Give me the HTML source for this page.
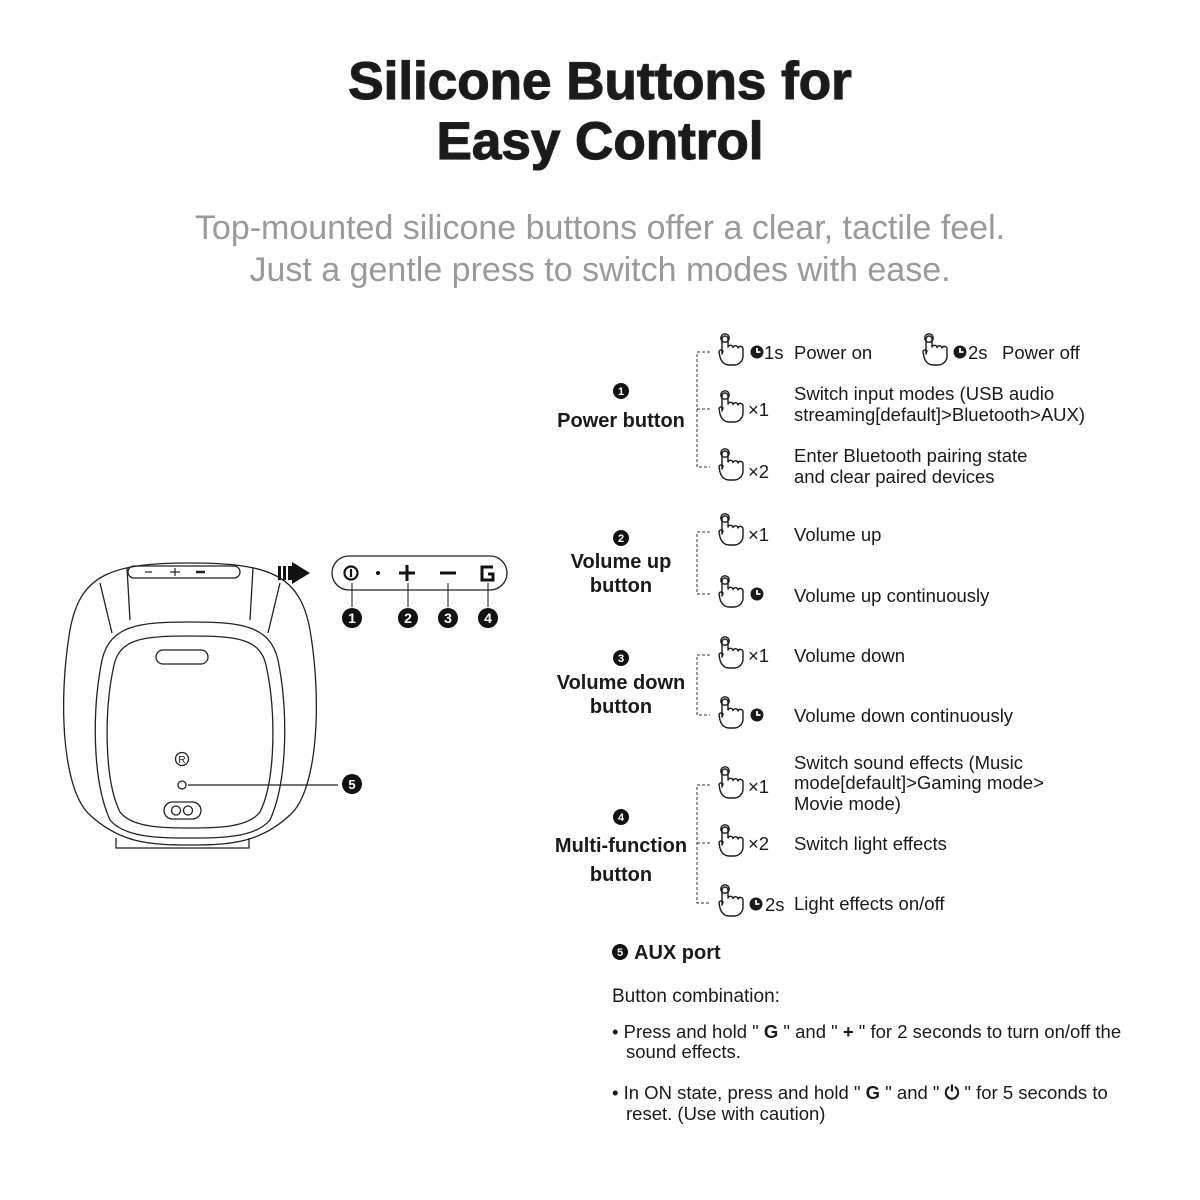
<!DOCTYPE html>
<html><head><meta charset="utf-8"><style>
html,body{margin:0;padding:0;background:#fff;}
svg{display:block;}
text{font-family:"Liberation Sans",sans-serif;fill:#1a1a1a;}
.t{font-size:18.5px;}
.b{font-size:20px;font-weight:bold;}
</style></head><body>
<svg width="1200" height="1200" viewBox="0 0 1200 1200" xmlns="http://www.w3.org/2000/svg">
<defs>
<g id="hand" fill="none" stroke="#1a1a1a" stroke-width="1.4" stroke-linejoin="round" stroke-linecap="round">
<circle cx="13" cy="-14" r="4.2"/>
<path d="M10,2 V-13 a3,3 0 0 1 6,0 V-5 a2.6,2.6 0 0 1 5,0.5 a2.6,2.6 0 0 1 5,0.5 a2.6,2.6 0 0 1 5,1 V4 c0,5 -4,9 -9,9 h-5 c-5,0 -8,-4 -9,-8 l-1,-5 c0,-2 3,-3 4,-1 z"/>
</g>
<g id="clk"><circle r="6.5" fill="#1a1a1a"/><path d="M0,-4 V0 H3.5" stroke="#fff" stroke-width="1.8" fill="none"/></g>
</defs>

<text x="600" y="99" text-anchor="middle" style="font-size:53px;font-weight:bold;stroke:#222;stroke-width:1.2" fill="#222">Silicone Buttons for</text>
<text x="600" y="159" text-anchor="middle" style="font-size:53px;font-weight:bold;stroke:#222;stroke-width:1.2" fill="#222">Easy Control</text>
<text x="600" y="239" text-anchor="middle" style="font-size:34px;fill:#9a9a9a">Top-mounted silicone buttons offer a clear, tactile feel.</text>
<text x="600" y="281" text-anchor="middle" style="font-size:34px;fill:#9a9a9a">Just a gentle press to switch modes with ease.</text>

<!-- device -->
<g fill="none" stroke="#222" stroke-width="1.3">
<path d="M190,563 C110,563 80,575 70,630 C58,700 62,790 90,815 C120,843 150,845 190,845 C230,845 260,843 290,815 C318,790 322,700 310,630 C300,575 270,563 190,563 Z"/>
<path d="M127,568 L130,620 M253,568 L250,620"/>
<path d="M100,583 L112,633 M280,583 L268,633"/>
<path d="M190,622 C140,622 110,625 102,660 C92,710 92,780 110,820 C125,838 160,838 190,838 C220,838 255,838 270,820 C288,780 288,710 278,660 C270,625 240,622 190,622 Z"/>
<path d="M190,636 C145,636 120,638 114,665 C104,710 104,780 120,812 C132,828 165,828 190,828 C215,828 248,828 260,812 C276,780 276,710 266,665 C260,638 235,636 190,636 Z"/>
<rect x="156" y="650" width="52" height="14" rx="7"/>
<circle cx="182" cy="759" r="6.5"/>
<circle cx="182" cy="785" r="4"/>
<rect x="164" y="802" width="37" height="17" rx="8.5"/>
<circle cx="176" cy="810.5" r="4.5"/><circle cx="188" cy="810.5" r="4.5"/>
<path d="M116,838 V848 H249 V838"/>
<rect x="128" y="566" width="112" height="12" rx="6"/>
</g>
<text x="182" y="763" text-anchor="middle" style="font-size:10px">R</text>
<g stroke="#222" stroke-width="1.2"><line x1="188" y1="785" x2="338" y2="785"/><line x1="145" y1="572" x2="152" y2="572"/><line x1="170" y1="572" x2="180" y2="572"/><line x1="175" y1="568" x2="175" y2="576"/><line x1="196" y1="572" x2="205" y2="572" stroke-width="2.5"/></g>
<circle cx="352" cy="784" r="10" fill="#111"/><text x="352" y="789" text-anchor="middle" style="font-size:13px;font-weight:bold;fill:#fff">5</text>

<!-- arrow -->
<g fill="#111"><rect x="278" y="566" width="3" height="14"/><rect x="283" y="566" width="3" height="14"/><rect x="288" y="566" width="4" height="14"/><path d="M292,562 L310,573 L292,584 Z"/></g>
<!-- panel -->
<rect x="332" y="556" width="175" height="34" rx="17" fill="none" stroke="#222" stroke-width="1.3"/>
<g fill="none" stroke="#111" stroke-width="2.2"><circle cx="351" cy="573" r="6.5"/><line x1="351" y1="569" x2="351" y2="577"/>
<path d="M399,573 H415 M407,565 V581" stroke-width="3"/><path d="M440,573 H456" stroke-width="3"/>
<path d="M493,567 H482 V580 H493 V574 H488" stroke-width="3"/></g>
<circle cx="378" cy="573" r="2" fill="#111"/>
<g stroke="#111" stroke-width="1"><line x1="352" y1="583" x2="352" y2="607"/><line x1="408" y1="583" x2="408" y2="607"/><line x1="448" y1="583" x2="448" y2="607"/><line x1="488" y1="583" x2="488" y2="607"/></g>
<g style="font-size:14px;font-weight:bold">
<circle cx="352" cy="618" r="10" fill="#111"/><text x="352" y="623" text-anchor="middle" style="fill:#fff">1</text>
<circle cx="408" cy="618" r="10" fill="#111"/><text x="408" y="623" text-anchor="middle" style="fill:#fff">2</text>
<circle cx="448" cy="618" r="10" fill="#111"/><text x="448" y="623" text-anchor="middle" style="fill:#fff">3</text>
<circle cx="488" cy="618" r="10" fill="#111"/><text x="488" y="623" text-anchor="middle" style="fill:#fff">4</text>
</g>

<!-- left labels -->
<g style="font-size:11px;font-weight:bold">
<circle cx="621" cy="391" r="8" fill="#111"/><text x="621" y="395" text-anchor="middle" style="fill:#fff">1</text>
<circle cx="621" cy="538" r="8" fill="#111"/><text x="621" y="542" text-anchor="middle" style="fill:#fff">2</text>
<circle cx="621" cy="658" r="8" fill="#111"/><text x="621" y="662" text-anchor="middle" style="fill:#fff">3</text>
<circle cx="621" cy="817" r="8" fill="#111"/><text x="621" y="821" text-anchor="middle" style="fill:#fff">4</text>
<circle cx="620" cy="952" r="8" fill="#111"/><text x="620" y="956" text-anchor="middle" style="fill:#fff">5</text>
</g>
<g text-anchor="middle">
<text x="621" y="427" class="b">Power button</text>
<text x="621" y="568" class="b">Volume up</text><text x="621" y="592" class="b">button</text>
<text x="621" y="689" class="b">Volume down</text><text x="621" y="713" class="b">button</text>
<text x="621" y="852" class="b">Multi-function</text><text x="621" y="881" class="b">button</text>
</g>
<text x="634" y="959" class="b">AUX port</text>
<text x="612" y="1002" style="font-size:19px;font-weight:bold;stroke:none;font-weight:normal">Button combination:</text>

<!-- brackets -->
<g stroke="#333" stroke-width="1" stroke-dasharray="3,2" fill="none">
<path d="M710,352 H697 V467 H710 M697,409 H710"/>
<path d="M710,532 H697 V594 H710"/>
<path d="M710,655 H697 V715 H710"/>
<path d="M710,785 H697 V903 H710 M697,843 H710"/>
</g>
<g>
<use href="#hand" x="712" y="352"/><use href="#hand" x="712" y="409"/><use href="#hand" x="712" y="467"/>
<use href="#hand" x="916" y="352"/>
<use href="#hand" x="712" y="532"/><use href="#hand" x="712" y="594"/>
<use href="#hand" x="712" y="655"/><use href="#hand" x="712" y="715"/>
<use href="#hand" x="712" y="785"/><use href="#hand" x="712" y="843"/><use href="#hand" x="712" y="903"/>
<use href="#clk" x="757" y="352"/><use href="#clk" x="960" y="352"/>
<use href="#clk" x="757" y="594"/><use href="#clk" x="757" y="715"/><use href="#clk" x="756" y="904"/>
</g>
<g>
<text x="764" y="359" class="t">1s</text><text x="794" y="359" class="t">Power on</text>
<text x="968" y="359" class="t">2s</text><text x="1002" y="359" class="t">Power off</text>
<text x="748" y="416" class="t">×1</text>
<text x="794" y="400" class="t">Switch input modes (USB audio</text>
<text x="794" y="421" class="t">streaming[default]&gt;Bluetooth&gt;AUX)</text>
<text x="748" y="478" class="t">×2</text>
<text x="794" y="462" class="t">Enter Bluetooth pairing state</text>
<text x="794" y="483" class="t">and clear paired devices</text>
<text x="748" y="541" class="t">×1</text><text x="794" y="541" class="t">Volume up</text>
<text x="794" y="602" class="t">Volume up continuously</text>
<text x="748" y="662" class="t">×1</text><text x="794" y="662" class="t">Volume down</text>
<text x="794" y="722" class="t">Volume down continuously</text>
<text x="748" y="793" class="t">×1</text>
<text x="794" y="769" class="t">Switch sound effects (Music</text>
<text x="794" y="789" class="t">mode[default]&gt;Gaming mode&gt;</text>
<text x="794" y="810" class="t">Movie mode)</text>
<text x="748" y="850" class="t">×2</text><text x="794" y="850" class="t">Switch light effects</text>
<text x="765" y="911" class="t">2s</text><text x="794" y="910" class="t">Light effects on/off</text>
<text x="612" y="1038" class="t">• Press and hold " <tspan style="font-weight:bold">G</tspan> " and " <tspan style="font-weight:bold">+</tspan> " for 2 seconds to turn on/off the</text>
<text x="626" y="1058" class="t">sound effects.</text>
<text x="612" y="1099" class="t">• In ON state, press and hold " <tspan style="font-weight:bold">G</tspan> " and " <tspan style="font-weight:bold">⏻</tspan> " for 5 seconds to</text>
<text x="626" y="1120" class="t">reset. (Use with caution)</text>
</g>
</svg>
</body></html>
